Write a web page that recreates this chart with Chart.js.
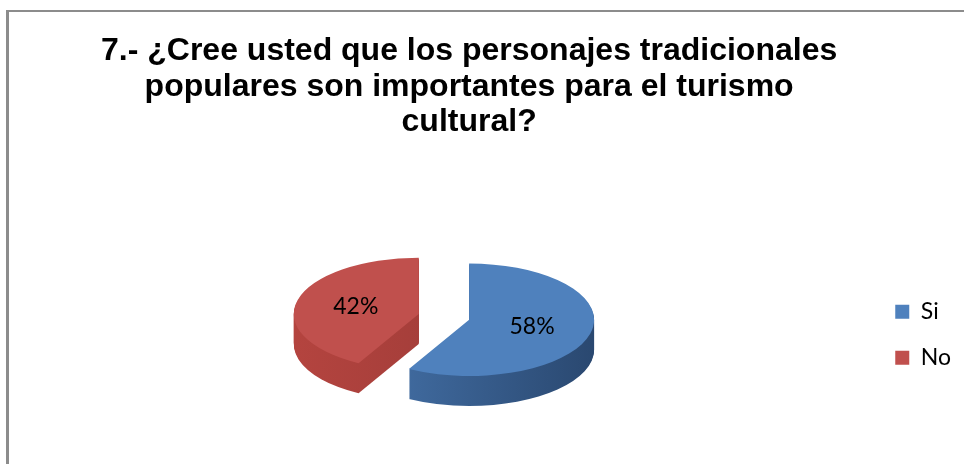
<!DOCTYPE html>
<html>
<head>
<meta charset="utf-8">
<script src="https://cdn.jsdelivr.net/npm/chart.js@4.4.1/dist/chart.umd.min.js"></script>
<style>
  html, body { margin: 0; padding: 0; background: #fff; }
  #wrap { position: relative; width: 964px; height: 464px; overflow: hidden; }
  #frame {
    position: absolute; left: 6px; top: 10px; width: 1000px; height: 500px;
    border-left: 3px solid #8c8c8c; border-top: 2px solid #8c8c8c;
  }
  canvas { position: absolute; left: 0; top: 0; }
</style>
</head>
<body>
<div id="wrap">
  <div id="frame"></div>
  <canvas id="pieChart" width="964" height="464"></canvas>
</div>
<script>
const titleLines = [
    '7.- ¿Cree usted que los personajes tradicionales',
    'populares son importantes para el turismo',
    'cultural?'
];
const categories = ['Si', 'No'];
const shares = [58, 42];
const topColors = ['#4f81bd', '#c0504d'];
// side walls: left -> right shading
const sideColors = [['#4674ac', '#2a4870'], ['#b4443f', '#983936']];

// Draws the pie as a tilted disc with a visible rim, slices pulled out per "explode"
const tiltedPie = {
    id: 'tiltedPie',
    beforeDatasetsDraw: (chart, args, opts) => {
        const ctx = chart.ctx;
        const arcs = chart.getDatasetMeta(0).data;
        const k = opts.tilt;
        const depth = opts.depth;
        const total = shares.reduce((a, b) => a + b, 0);

        const faces = arcs.map((arc, i) => {
            const p = arc.getProps(['x', 'y', 'startAngle', 'endAngle', 'outerRadius'], true);
            const mid = (p.startAngle + p.endAngle) / 2;
            const push = opts.explode[i] || 0;
            return {
                i, arc,
                r: p.outerRadius,
                start: p.startAngle,
                end: p.endAngle,
                mid,
                cx: p.x + Math.cos(mid) * push,
                cy: p.y - depth / 2 + Math.sin(mid) * push * k
            };
        });

        // rim
        faces.forEach(f => {
            const g = ctx.createLinearGradient(f.cx - f.r, 0, f.cx + f.r, 0);
            g.addColorStop(0, sideColors[f.i][0]);
            g.addColorStop(1, sideColors[f.i][1]);
            ctx.fillStyle = g;
            for (let d = depth; d > 0; d--) {
                ctx.beginPath();
                ctx.moveTo(f.cx, f.cy + d);
                ctx.ellipse(f.cx, f.cy + d, f.r, f.r * k, 0, f.start, f.end);
                ctx.closePath();
                ctx.fill();
            }
        });

        // top faces, drawn by the arc elements themselves under a squash
        faces.forEach(f => {
            ctx.save();
            ctx.translate(f.cx, f.cy);
            ctx.scale(1, k);
            ctx.translate(-f.arc.x, -f.arc.y);
            f.arc.draw(ctx);
            ctx.restore();
        });

        // percentage labels
        ctx.save();
        ctx.font = opts.labelFont;
        ctx.fillStyle = '#000';
        ctx.textAlign = 'center';
        ctx.textBaseline = 'middle';
        faces.forEach(f => {
            const lr = f.r * opts.labelRadius;
            const pct = Math.round(shares[f.i] / total * 100) + '%';
            ctx.fillText(pct, f.cx + Math.cos(f.mid) * lr, f.cy + Math.sin(f.mid) * lr * k);
        });
        ctx.restore();

        return false;
    }
};

const ctx = document.getElementById('pieChart').getContext('2d');
new Chart(ctx, {
    type: 'pie',
    data: {
        labels: categories,
        datasets: [{
            data: shares,
            backgroundColor: topColors,
            borderWidth: 0
        }]
    },
    options: {
        responsive: false,
        animation: false,
        radius: 125,
        layout: {
            padding: { left: 66, right: 3, top: 0, bottom: 0 }
        },
        plugins: {
            title: {
                display: true,
                text: titleLines,
                fullSize: false,
                color: '#000',
                font: { family: '"Liberation Sans", Arial, sans-serif', size: 32, weight: 'bold', lineHeight: 1.1 },
                padding: { top: 34, bottom: 66 }
            },
            legend: {
                position: 'right',
                fullSize: false,
                labels: {
                    boxWidth: 14,
                    boxHeight: 14,
                    padding: 23,
                    color: '#000',
                    font: { family: 'Lato, sans-serif', size: 23 }
                }
            },
            tooltip: { enabled: false },
            tiltedPie: {
                tilt: 0.45,
                depth: 30,
                explode: [0, 52],
                labelRadius: 0.52,
                labelFont: '23px Lato, sans-serif'
            }
        }
    },
    plugins: [tiltedPie]
});
</script>
</body>
</html>
